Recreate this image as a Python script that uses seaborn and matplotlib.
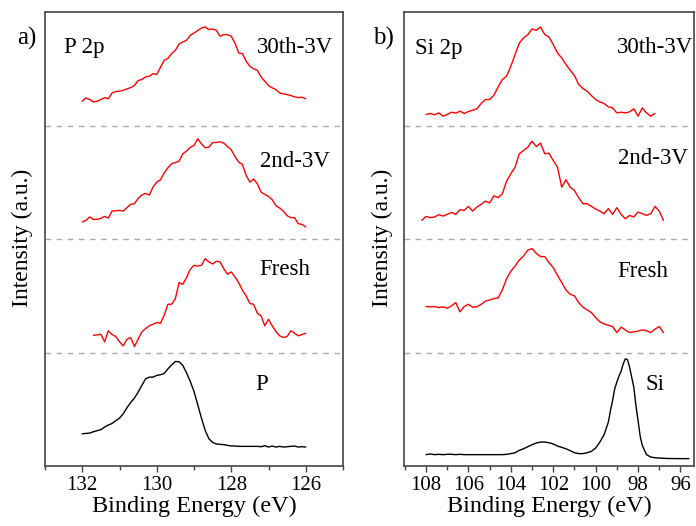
import numpy as np
import pandas as pd
import matplotlib
matplotlib.use("Agg")
import matplotlib.pyplot as plt
import seaborn as sns
from matplotlib.ticker import MultipleLocator

sns.set_theme(style="white")
plt.rcParams['font.family'] = ['Liberation Serif', 'DejaVu Serif']
plt.rcParams['text.color'] = 'black'
plt.rcParams['axes.labelcolor'] = 'black'
plt.rcParams['xtick.color'] = 'black'

# ---------------- Panel a) P 2p ----------------
p_30th_E = np.round(np.arange(132.0, 125.95, -0.1), 2)
p_30th_I = [0.214, 0.243, 0.229, 0.208, 0.214, 0.229, 0.246, 0.235, 0.287, 0.299,
            0.302, 0.311, 0.323, 0.334, 0.352, 0.396, 0.405, 0.428, 0.434, 0.457,
            0.449, 0.513, 0.575, 0.592, 0.633, 0.663, 0.718, 0.736, 0.751, 0.795,
            0.815, 0.836, 0.859, 0.868, 0.845, 0.850, 0.839, 0.786, 0.801, 0.801,
            0.786, 0.727, 0.639, 0.633, 0.566, 0.522, 0.499, 0.487, 0.428, 0.390,
            0.352, 0.331, 0.317, 0.287, 0.279, 0.273, 0.264, 0.252, 0.246, 0.249,
            0.235]

p_2nd_E = np.round(np.arange(132.0, 125.95, -0.1), 2)
p_2nd_I = [0.150, 0.164, 0.194, 0.173, 0.173, 0.182, 0.199, 0.185, 0.246, 0.249,
           0.252, 0.246, 0.276, 0.305, 0.311, 0.358, 0.387, 0.402, 0.387, 0.457,
           0.501, 0.522, 0.581, 0.628, 0.663, 0.674, 0.686, 0.751, 0.774, 0.809,
           0.824, 0.883, 0.839, 0.804, 0.809, 0.850, 0.850, 0.856, 0.845, 0.815,
           0.786, 0.727, 0.677, 0.657, 0.560, 0.501, 0.528, 0.487, 0.413, 0.393,
           0.375, 0.346, 0.293, 0.273, 0.246, 0.205, 0.188, 0.188, 0.135, 0.129,
           0.106]

p_fresh_E = np.round(np.arange(131.7, 125.95, -0.1), 2)
p_fresh_I = [0.152, 0.155, 0.161, 0.094, 0.191, 0.158, 0.141, 0.094, 0.059, 0.117,
             0.132, 0.053, 0.117, 0.182, 0.211, 0.235, 0.249, 0.264, 0.258, 0.328,
             0.425, 0.425, 0.475, 0.616, 0.601, 0.660, 0.733, 0.768, 0.762, 0.768,
             0.827, 0.798, 0.780, 0.804, 0.798, 0.739, 0.689, 0.710, 0.666, 0.616,
             0.548, 0.499, 0.431, 0.425, 0.346, 0.323, 0.235, 0.293, 0.235, 0.185,
             0.147, 0.132, 0.141, 0.191, 0.170, 0.147, 0.158, 0.170]

p_ref_E = np.round(np.arange(132.0, 125.95, -0.1), 2)
p_ref_I = [0.284, 0.287, 0.290, 0.302, 0.311, 0.320, 0.343, 0.361, 0.375, 0.399,
           0.422, 0.460, 0.513, 0.560, 0.598, 0.651, 0.710, 0.768, 0.783, 0.783,
           0.798, 0.804, 0.815, 0.856, 0.891, 0.921, 0.918, 0.886, 0.821, 0.745,
           0.657, 0.540, 0.422, 0.314, 0.240, 0.208, 0.194, 0.191, 0.188, 0.182,
           0.176, 0.176, 0.173, 0.173, 0.173, 0.173, 0.173, 0.173, 0.170, 0.179,
           0.167, 0.176, 0.167, 0.173, 0.167, 0.170, 0.173, 0.176, 0.167, 0.170,
           0.167]

# ---------------- Panel b) Si 2p ----------------
si_30th_E = np.round(np.arange(108.0, 97.15, -0.2), 2)
si_30th_I = [0.097, 0.106, 0.094, 0.111, 0.082, 0.097, 0.117, 0.109, 0.126, 0.106,
             0.123, 0.135, 0.147, 0.194, 0.229, 0.229, 0.267, 0.340, 0.405, 0.434,
             0.522, 0.625, 0.727, 0.771, 0.801, 0.850, 0.839, 0.868, 0.801, 0.780,
             0.713, 0.639, 0.595, 0.537, 0.487, 0.440, 0.361, 0.326, 0.302, 0.264,
             0.229, 0.208, 0.194, 0.164, 0.155, 0.111, 0.117, 0.111, 0.120, 0.147,
             0.082, 0.155, 0.111, 0.082, 0.106]

si_2nd_E = np.round(np.arange(108.2, 96.75, -0.2), 2)
si_2nd_I = [0.164, 0.199, 0.188, 0.194, 0.214, 0.202, 0.217, 0.235, 0.217, 0.258,
            0.252, 0.287, 0.246, 0.282, 0.305, 0.334, 0.317, 0.381, 0.364, 0.399,
            0.510, 0.575, 0.633, 0.751, 0.780, 0.809, 0.862, 0.815, 0.845, 0.751,
            0.756, 0.692, 0.633, 0.457, 0.522, 0.457, 0.428, 0.364, 0.311, 0.311,
            0.287, 0.264, 0.246, 0.223, 0.267, 0.217, 0.276, 0.217, 0.179, 0.208,
            0.194, 0.238, 0.223, 0.208, 0.223, 0.287, 0.246, 0.164]

si_fresh_E = np.round(np.arange(108.0, 96.75, -0.2), 2)
si_fresh_I = [0.405, 0.402, 0.405, 0.396, 0.402, 0.390, 0.411, 0.440, 0.358, 0.405,
              0.425, 0.399, 0.402, 0.425, 0.452, 0.463, 0.475, 0.481, 0.551, 0.651,
              0.716, 0.762, 0.815, 0.850, 0.903, 0.915, 0.874, 0.845, 0.845, 0.792,
              0.748, 0.680, 0.616, 0.551, 0.513, 0.499, 0.440, 0.399, 0.375, 0.352,
              0.308, 0.270, 0.252, 0.240, 0.229, 0.176, 0.223, 0.199, 0.176, 0.182,
              0.188, 0.199, 0.191, 0.176, 0.205, 0.229, 0.176]

si_ref_E = [108.0, 107.8, 107.6, 107.4, 107.2, 107.0, 106.8, 106.6, 106.4, 106.2,
            106.0, 105.0, 104.4, 104.2, 104.0, 103.8, 103.6, 103.4, 103.2, 103.0,
            102.8, 102.6, 102.4, 102.2, 102.0, 101.8, 101.6, 101.4, 101.2, 101.0,
            100.8, 100.6, 100.4, 100.2, 100.0, 99.8, 99.6, 99.4, 99.3, 99.2,
            99.1, 99.0, 98.9, 98.8, 98.7, 98.6, 98.5, 98.4, 98.3, 98.2,
            98.1, 98.0, 97.9, 97.8, 97.6, 97.4, 97.2, 97.0, 96.6, 96.0, 95.6]
si_ref_I = [0.100, 0.106, 0.100, 0.103, 0.100, 0.103, 0.103, 0.100, 0.103, 0.100,
            0.100, 0.100, 0.100, 0.103, 0.109, 0.117, 0.138, 0.152, 0.170, 0.188,
            0.202, 0.211, 0.211, 0.205, 0.194, 0.176, 0.164, 0.152, 0.135, 0.117,
            0.109, 0.109, 0.117, 0.129, 0.158, 0.211, 0.276, 0.387, 0.490, 0.578,
            0.680, 0.739, 0.792, 0.833, 0.900, 0.944, 0.938, 0.871, 0.783, 0.695,
            0.534, 0.402, 0.264, 0.182, 0.100, 0.079, 0.073, 0.070, 0.066, 0.065,
            0.065]


def build(curves):
    frames = []
    for name, E, I, off in curves:
        frames.append(pd.DataFrame({"E": E, "I": np.asarray(I) + off, "curve": name}))
    return pd.concat(frames, ignore_index=True)


df_p = build([("30th-3V", p_30th_E, p_30th_I, 3), ("2nd-3V", p_2nd_E, p_2nd_I, 2),
              ("Fresh", p_fresh_E, p_fresh_I, 1), ("P", p_ref_E, p_ref_I, 0)])
df_si = build([("30th-3V", si_30th_E, si_30th_I, 3), ("2nd-3V", si_2nd_E, si_2nd_I, 2),
               ("Fresh", si_fresh_E, si_fresh_I, 1), ("Si", si_ref_E, si_ref_I, 0)])

W, H = 696, 526
fig = plt.figure(figsize=(W / 100, H / 100), dpi=100)
ax1 = fig.add_axes([45 / W, 1 - 466 / H, 298 / W, 454 / H])
ax2 = fig.add_axes([404 / W, 1 - 466 / H, 290 / W, 454 / H])

spine_c = "#444444"
for ax, df, ref, xlim in [(ax1, df_p, "P", (133, 125)), (ax2, df_si, "Si", (109.04, 95.36))]:
    pal = {"30th-3V": "#ff0000", "2nd-3V": "#ff0000", "Fresh": "#ff0000", ref: "#000000"}
    sns.lineplot(data=df, x="E", y="I", hue="curve", units="curve", estimator=None,
                 sort=False, palette=pal, linewidth=1.0, legend=False, ax=ax)
    for yv in (1, 2, 3):
        ax.axhline(yv, color="#aaaaaa", lw=1.0, ls=(0, (4, 4)))
    ax.set_xlim(*xlim)
    ax.set_ylim(0, 4)
    ax.set_yticks([])
    ax.xaxis.set_major_locator(MultipleLocator(2))
    ax.xaxis.set_minor_locator(MultipleLocator(1))
    ax.tick_params(axis="x", which="major", direction="out", length=4, width=1,
                   color=spine_c, labelcolor="black", labelsize=15, pad=3, bottom=True)
    ax.tick_params(axis="x", which="minor", direction="out", length=3, width=1,
                   color=spine_c, bottom=True)
    for s in ax.spines.values():
        s.set_color(spine_c)
        s.set_linewidth(1.2)
    ax.set_xlabel("Binding Energy (eV)", fontsize=17.5, labelpad=1, color="black")
    ax.set_ylabel("")

ax1.set_xticks([132, 130, 128, 126])
ax2.set_xticks([108, 106, 104, 102, 100, 98, 96])

fs = 16.5
ax1.text(132.49, 3.69, "P 2p", fontsize=fs, va="center", ha="left")
ax1.text(125.27, 3.69, "30th-3V", fontsize=fs, va="center", ha="right")
ax1.text(125.35, 2.68, "2nd-3V", fontsize=fs, va="center", ha="right")
ax1.text(125.89, 1.73, "Fresh", fontsize=fs, va="center", ha="right")
ax1.text(127.17, 0.72, "P", fontsize=fs, va="center", ha="center")

ax2.text(108.52, 3.68, "Si 2p", fontsize=fs, va="center", ha="left")
ax2.text(95.42, 3.69, "30th-3V", fontsize=fs, va="center", ha="right")
ax2.text(95.64, 2.71, "2nd-3V", fontsize=fs, va="center", ha="right")
ax2.text(96.58, 1.71, "Fresh", fontsize=fs, va="center", ha="right")
ax2.text(97.2, 0.72, "Si", fontsize=fs, va="center", ha="center")

fig.text(17 / W, 1 - 38 / H, "a)", fontsize=18, va="center", ha="left")
fig.text(373 / W, 1 - 38 / H, "b)", fontsize=18, va="center", ha="left")
fig.text(22 / W, 1 - 238 / H, "Intensity (a.u.)", fontsize=17, rotation=90, va="center", ha="center")
fig.text(382 / W, 1 - 238 / H, "Intensity (a.u.)", fontsize=17, rotation=90, va="center", ha="center")

fig.savefig("out.png", dpi=100)
